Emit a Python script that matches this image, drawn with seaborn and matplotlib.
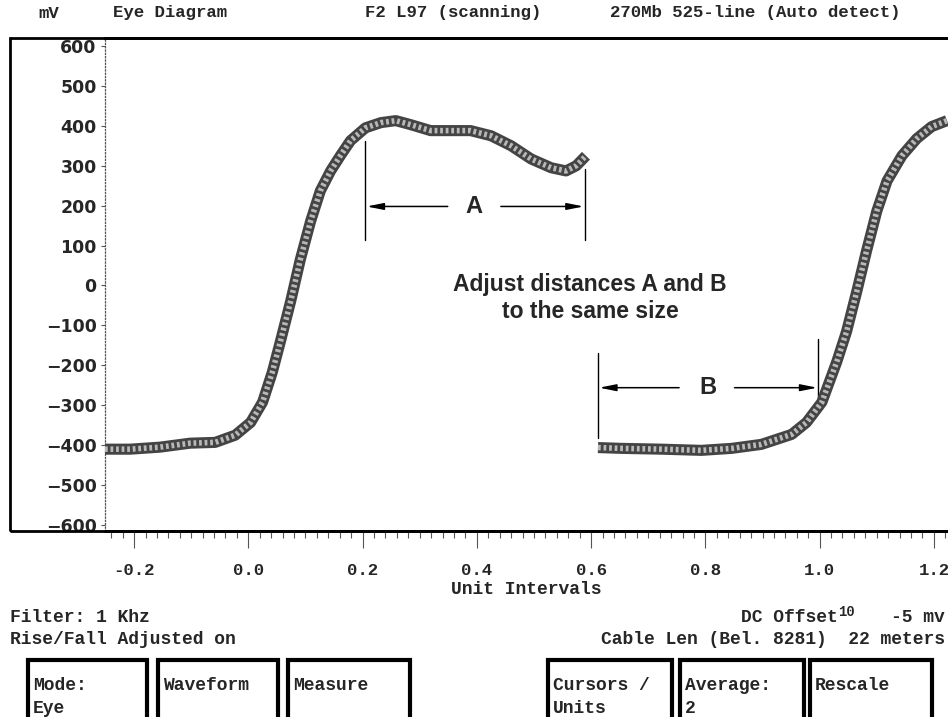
import numpy as np
import pandas as pd
import matplotlib
matplotlib.use('Agg')
import matplotlib.pyplot as plt
import seaborn as sns
from matplotlib.patches import Rectangle
from matplotlib.ticker import MultipleLocator

# first edge (rising, then overshoot), unit intervals vs mV
ui_a = [-0.251, -0.207, -0.155, -0.102, -0.058, -0.023, 0.004, 0.025, 0.042, 0.056,
        0.074, 0.091, 0.109, 0.126, 0.144, 0.161, 0.179, 0.205, 0.232, 0.258,
        0.284, 0.319, 0.354, 0.389, 0.425, 0.46, 0.495, 0.53, 0.556, 0.574, 0.591]
mv_a = [-410, -410, -405, -395, -393, -375, -343, -292, -217, -141,
        -40, 65, 161, 237, 287, 325, 363, 395, 408, 413,
        403, 388, 388, 388, 375, 350, 317, 295, 287, 300, 325]

# second edge (flat low, then rising)
ui_b = [0.612, 0.653, 0.723, 0.793, 0.846, 0.898, 0.951, 0.977, 1.004, 1.03,
        1.047, 1.065, 1.082, 1.1, 1.118, 1.144, 1.17, 1.196, 1.223]
mv_b = [-406, -408, -410, -413, -408, -398, -373, -343, -292, -191,
        -116, -15, 86, 186, 262, 325, 368, 398, 413]

y_ticks = list(range(-600, 601, 100))
x_ticks = [-0.2, 0.0, 0.2, 0.4, 0.6, 0.8, 1.0, 1.2]

header = ['mV', 'Eye Diagram', 'F2 L97 (scanning)', '270Mb 525-line (Auto detect)']
buttons = ['Mode:\nEye', 'Waveform', 'Measure', 'Cursors /\nUnits', 'Average:\n2', 'Rescale']

sns.set_style('white')
mono = ['Liberation Mono', 'DejaVu Sans Mono']
narrow = ['Liberation Sans Narrow', 'Liberation Sans', 'DejaVu Sans']

W, H = 948, 717
fig = plt.figure(figsize=(W / 100, H / 100), dpi=100)
ax = fig.add_axes([105 / W, 1 - 531 / H, 1 - 105 / W + 0.002, (531 - 38) / H])

df_a = pd.DataFrame({'ui': ui_a, 'mv': mv_a})
df_b = pd.DataFrame({'ui': ui_b, 'mv': mv_b})
for d in (df_a, df_b):
    sns.lineplot(data=d, x='ui', y='mv', ax=ax, color='#444444', lw=8,
                 sort=False, solid_capstyle='butt', zorder=3)
    sns.lineplot(data=d, x='ui', y='mv', ax=ax, color='#b8b8b8', lw=4,
                 sort=False, linestyle=(0, (0.5, 0.5)), zorder=4)

ax.set_xlim(-0.2509, 1.228)
ax.set_ylim(-615, 620)
ax.set_xticks(x_ticks)
ax.set_xticklabels([f'{v:.1f}' for v in x_ticks], fontfamily=mono, fontweight='bold', fontsize=12.5)
ax.xaxis.set_minor_locator(MultipleLocator(0.02))
ax.set_yticks(y_ticks)
ax.set_yticklabels([str(v).replace('-', '\u2212') for v in y_ticks],
                   fontfamily='DejaVu Sans', fontweight='bold', fontsize=12.5)
ax.tick_params(axis='x', which='major', direction='out', length=12, width=0.8,
               color='#555555', pad=11, bottom=True)
ax.tick_params(axis='x', which='minor', direction='out', length=5, width=0.8,
               color='#555555', bottom=True)
ax.tick_params(axis='y', which='major', direction='out', length=3, width=0.8,
               color='#555555', pad=3, left=True)
ax.set_xlabel('')
ax.set_ylabel('')
for s in ('top', 'bottom'):
    ax.spines[s].set_linewidth(2)
    ax.spines[s].set_color('black')
ax.spines['right'].set_visible(False)
ax.spines['left'].set_linestyle(':')
ax.spines['left'].set_linewidth(0.9)
ax.spines['left'].set_color('#555555')

# outer frame around the tick labels
fig.patches.append(Rectangle((10 / W, 1 - 531 / H), 1.2, (531 - 38) / H,
                             transform=fig.transFigure, fill=False, lw=2, ec='black'))

# cursor markers A and B
def marker(ax, x0, x1, ylo0, yhi0, ylo1, yhi1, ya, xl, xt, xr, label):
    ax.plot([x0, x0], [ylo0, yhi0], color='black', lw=1)
    ax.plot([x1, x1], [ylo1, yhi1], color='black', lw=1)
    head = '-|>,head_length=1.0,head_width=0.2'
    ax.annotate('', xy=(x0 + 0.002, ya), xytext=(xl, ya),
                arrowprops=dict(arrowstyle=head, color='black', lw=1.1, shrinkA=0, shrinkB=0))
    ax.annotate('', xy=(x1 - 0.002, ya), xytext=(xr, ya),
                arrowprops=dict(arrowstyle=head, color='black', lw=1.1, shrinkA=0, shrinkB=0))
    ax.text(xt, ya, label, ha='center', va='center', fontsize=17,
            fontweight='bold', fontfamily=narrow)

marker(ax, 0.205, 0.589, 113, 361, 115, 291, 198, 0.349, 0.395, 0.442, 'A')
marker(ax, 0.612, 0.998, -381, -170, -298, -133, -256, 0.754, 0.805, 0.851, 'B')

ax.text(0.598, -31, 'Adjust distances A and B\nto the same size', ha='center', va='center',
        fontsize=16.5, fontweight='bold', fontfamily=narrow, linespacing=1.2)

# header line
for txt, x in zip(header, [38, 113, 365, 610]):
    fig.text(x / W, 1 - 13 / H, txt, ha='left', va='center', fontfamily=mono,
             fontweight='bold', fontsize=12.5)

fig.text(526 / W, 1 - 589 / H, 'Unit Intervals', ha='center', va='center',
         fontfamily=mono, fontweight='bold', fontsize=13)

# status lines
fig.text(10 / W, 1 - 617 / H, 'Filter: 1 Khz', ha='left', va='center',
         fontfamily=mono, fontweight='bold', fontsize=13)
fig.text(10 / W, 1 - 640 / H, 'Rise/Fall Adjusted on', ha='left', va='center',
         fontfamily=mono, fontweight='bold', fontsize=13)
fig.text(838 / W, 1 - 617 / H, 'DC Offset', ha='right', va='center',
         fontfamily=mono, fontweight='bold', fontsize=13)
fig.text(838 / W, 1 - 612 / H, '10', ha='left', va='center',
         fontfamily=mono, fontweight='bold', fontsize=10)
fig.text(945 / W, 1 - 617 / H, '-5 mv', ha='right', va='center',
         fontfamily=mono, fontweight='bold', fontsize=13)
fig.text(945 / W, 1 - 640 / H, 'Cable Len (Bel. 8281)  22 meters', ha='right', va='center',
         fontfamily=mono, fontweight='bold', fontsize=13)

# soft-key buttons along the bottom
box_x = [(28, 147), (158, 278), (288, 410), (548, 672), (680, 804), (810, 932)]
for (x0, x1), lab in zip(box_x, buttons):
    fig.patches.append(Rectangle((x0 / W, -0.05), (x1 - x0) / W, 0.05 + (717 - 660) / H,
                                 transform=fig.transFigure, fill=False, lw=3, ec='black'))
    fig.text((x0 + 5) / W, 1 - 677 / H, lab, ha='left', va='top', fontfamily=mono,
             fontweight='bold', fontsize=13, linespacing=1.45)

fig.savefig('out.png', dpi=100)
